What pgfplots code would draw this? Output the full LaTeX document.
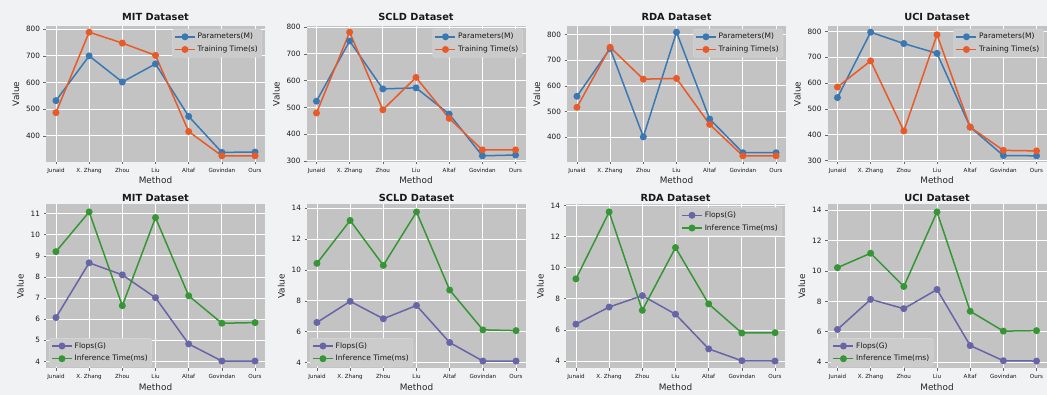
\documentclass[border=0pt]{standalone}
\usepackage{pgfplots}
\pgfplotsset{compat=1.18}
\usepackage{fontspec}
\setmainfont{DejaVu Sans}
\definecolor{cblue}{HTML}{3A78B4}
\definecolor{corange}{HTML}{E85A28}
\definecolor{cpurple}{HTML}{6864A8}
\definecolor{cgreen}{HTML}{369636}
\definecolor{axbg}{HTML}{C3C3C3}
\definecolor{figbg}{HTML}{F1F2F4}
\definecolor{legbg}{HTML}{CBCBCB}
\definecolor{legdraw}{HTML}{DADADA}
\pgfplotsset{
 myax/.style={
  scale only axis, width=219pt, anchor=south west,
  xmin=-0.3, xmax=6.3, enlarge y limits=0.05,
  xtick={0,...,6}, xticklabels={Junaid,X. Zhang,Zhou,Liu,Altaf,Govindan,Ours},
  axis background/.style={fill=axbg},
  grid=major, major grid style={white, line width=0.8pt},
  axis line style={draw=none},
  tick align=outside, major tick length=2.5pt, tick style={black!60, line width=0.6pt},
  tick pos=left,
  xticklabel style={font=\fontsize{5.6}{6}\selectfont, text=black!90},
  yticklabel style={font=\fontsize{7.3}{8}\selectfont, text=black!90},
  /pgf/number format/assume math mode=true,
  xlabel=Method, ylabel=Value,
  label style={font=\fontsize{8.9}{10}\selectfont, text=black!85},
  xlabel style={yshift=3.5pt},
  title style={font=\bfseries\fontsize{9.8}{11}\selectfont, at={(0.5,1)}, anchor=base, text=black!90},
  legend style={font=\fontsize{7.5}{8}\selectfont, fill=legbg, draw=legdraw, rounded corners=1.5pt, inner xsep=2pt, inner ysep=2pt, row sep=1.5pt, text=black!90},
  legend cell align=left,
  legend image code/.code={\draw[mark repeat=2, mark phase=2] plot coordinates {(0pt,0pt) (10pt,0pt) (20pt,0pt)};},
 },
 top/.style={myax, height=136pt, ytick={300,400,...,800},
  title style={yshift=-0.5pt},
  legend style={at={(1,1)}, xshift=-3pt, yshift=-3pt, anchor=north east}},
 bot/.style={myax, height=164pt, title style={yshift=-3pt}},
 botll/.style={legend style={at={(0,0)}, xshift=3pt, yshift=2pt, anchor=south west}},
 botur/.style={legend style={at={(1,1)}, xshift=-3pt, yshift=-3pt, anchor=north east}},
 ln/.style={line width=1.5pt, mark=*, mark size=2.7pt, mark options={solid}},
}
\begin{document}
\begin{tikzpicture}
\fill[figbg] (0,0) rectangle (1047pt,395pt);
% ---------- Row 1 ----------
\begin{axis}[top, at={(46pt,233pt)}, title={MIT Dataset}]
\addplot[ln, cblue] coordinates {(0,532) (1,700) (2,602) (3,670) (4,473) (5,338) (6,339)};
\addplot[ln, corange] coordinates {(0,487) (1,789) (2,748) (3,702) (4,416) (5,325) (6,325)};
\legend{Parameters(M),Training Time(s)}
\end{axis}
\begin{axis}[top, at={(306.5pt,233pt)}, title={SCLD Dataset}]
\addplot[ln, cblue] coordinates {(0,523) (1,748) (2,569) (3,573) (4,475) (5,319) (6,322)};
\addplot[ln, corange] coordinates {(0,479) (1,781) (2,491) (3,612) (4,459) (5,341) (6,341)};
\legend{Parameters(M),Training Time(s)}
\end{axis}
\begin{axis}[top, at={(567pt,233pt)}, title={RDA Dataset}]
\addplot[ln, cblue] coordinates {(0,559) (1,746) (2,400) (3,810) (4,470) (5,338) (6,338)};
\addplot[ln, corange] coordinates {(0,516) (1,751) (2,626) (3,629) (4,449) (5,326) (6,326)};
\legend{Parameters(M),Training Time(s)}
\end{axis}
\begin{axis}[top, at={(827.5pt,233pt)}, title={UCI Dataset}]
\addplot[ln, cblue] coordinates {(0,544) (1,797) (2,753) (3,715) (4,430) (5,320) (6,319)};
\addplot[ln, corange] coordinates {(0,585) (1,686) (2,415) (3,787) (4,430) (5,340) (6,338)};
\legend{Parameters(M),Training Time(s)}
\end{axis}
% ---------- Row 2 ----------
\begin{axis}[bot, botll, at={(46pt,26.5pt)}, title={MIT Dataset}, ytick={4,5,...,11}]
\addplot[ln, cpurple] coordinates {(0,6.08) (1,8.67) (2,8.10) (3,7.02) (4,4.83) (5,4.02) (6,4.02)};
\addplot[ln, cgreen] coordinates {(0,9.20) (1,11.08) (2,6.64) (3,10.81) (4,7.11) (5,5.81) (6,5.84)};
\legend{Flops(G),Inference Time(ms)}
\end{axis}
\begin{axis}[bot, botll, at={(307pt,26.5pt)}, title={SCLD Dataset}, ytick={4,6,...,14}]
\addplot[ln, cpurple] coordinates {(0,6.60) (1,7.97) (2,6.84) (3,7.70) (4,5.30) (5,4.10) (6,4.10)};
\addplot[ln, cgreen] coordinates {(0,10.43) (1,13.21) (2,10.30) (3,13.76) (4,8.70) (5,6.12) (6,6.07)};
\legend{Flops(G),Inference Time(ms)}
\end{axis}
\begin{axis}[bot, botur, at={(566pt,26.5pt)}, title={RDA Dataset}, ytick={4,6,...,14}]
\addplot[ln, cpurple] coordinates {(0,6.37) (1,7.47) (2,8.20) (3,7.01) (4,4.78) (5,4.02) (6,4.00)};
\addplot[ln, cgreen] coordinates {(0,9.28) (1,13.58) (2,7.26) (3,11.29) (4,7.67) (5,5.80) (6,5.82)};
\legend{Flops(G),Inference Time(ms)}
\end{axis}
\begin{axis}[bot, botll, at={(827.5pt,26.5pt)}, title={UCI Dataset}, ytick={4,6,...,14}]
\addplot[ln, cpurple] coordinates {(0,6.15) (1,8.13) (2,7.52) (3,8.78) (4,5.09) (5,4.09) (6,4.07)};
\addplot[ln, cgreen] coordinates {(0,10.22) (1,11.17) (2,8.98) (3,13.89) (4,7.35) (5,6.04) (6,6.07)};
\legend{Flops(G),Inference Time(ms)}
\end{axis}
\pgfresetboundingbox
\path[use as bounding box] (0,0) rectangle (1047pt,395pt);
\end{tikzpicture}
\end{document}
